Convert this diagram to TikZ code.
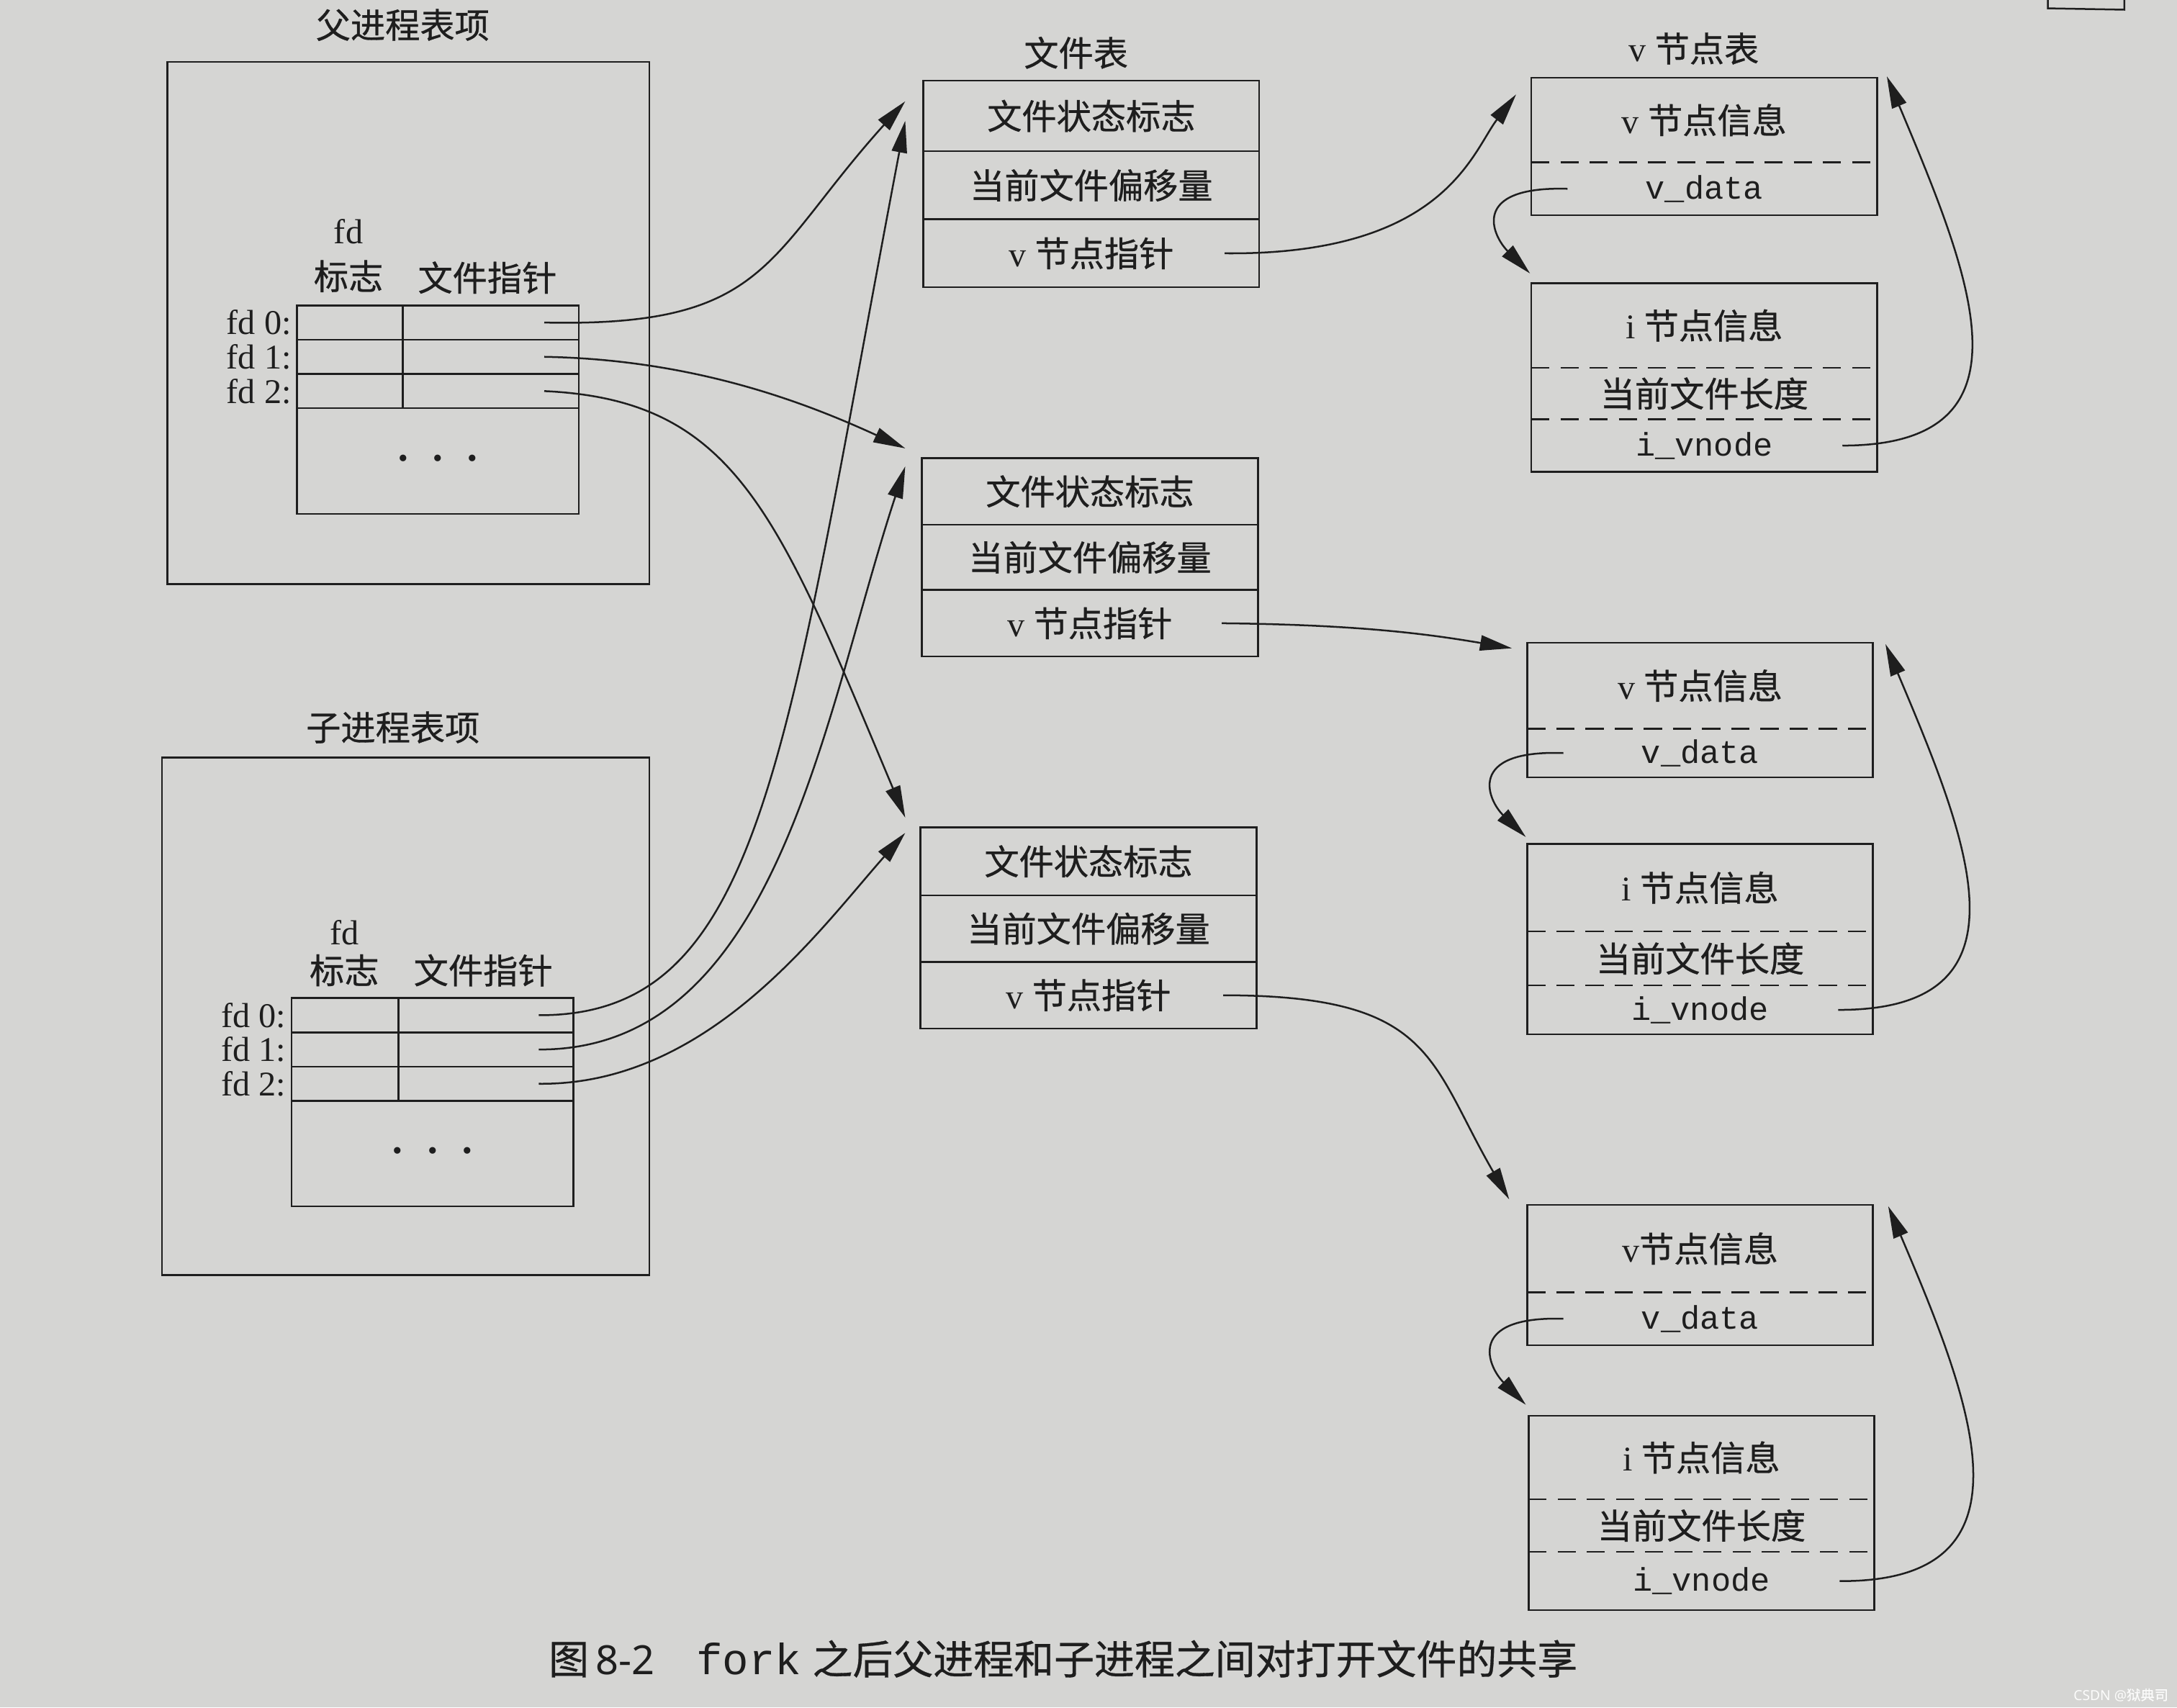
\documentclass[tikz,border=0pt]{standalone}
\usepackage{fontspec}
\setmainfont{Liberation Serif}
\setmonofont{Liberation Mono}
\newfontfamily\cjkfont[FakeBold=0.6]{Noto Sans CJK SC}
\newfontfamily\capsans{Noto Sans}
\usetikzlibrary{arrows.meta}
\newcommand\zh[1]{{\cjkfont #1}}
\definecolor{paper}{RGB}{213,213,211}
\definecolor{ink}{RGB}{30,30,30}
\begin{document}
\begin{tikzpicture}[x=1pt,y=-1pt,
  every node/.style={text=ink},
  lbl/.style={inner sep=0pt,font=\fontsize{25}{30}\selectfont},
  cell/.style={draw=ink,line width=1.3pt,inner sep=0pt,outer sep=0pt,font=\fontsize{25}{30}\selectfont},
  frow/.style={cell,minimum width=242pt},
  vpart/.style={inner sep=0pt,outer sep=0pt,minimum width=249pt,font=\fontsize{25}{30}\selectfont},
  frame/.style={draw=ink,line width=1.3pt},
  divline/.style={draw=ink,line width=1.2pt,dash pattern=on 13pt off 8pt},
  ptr/.style={draw=ink,line width=1.3pt,-{Triangle[length=23pt,width=11pt]}},
  dots/.style={cell,minimum width=203pt,minimum height=76pt,anchor=north west}
]
% background
\fill[paper] (0,0) rectangle (1568,1230);
\useasboundingbox (0,0) rectangle (1568,1230);
\draw[frame] (1475,0) -- (1475,6) -- (1530,7) -- (1530,0);

% ===== parent process entry =====
\node[lbl] (ptitle) at (290,18) {\zh{父进程表项}};
\node[frame,minimum width=347pt,minimum height=376pt,anchor=north west,inner sep=0pt] (pout) at (120,44) {};
\node[lbl] (pfd) at (251,167) {fd};
\node[lbl] (pflag) at (251,199) {\zh{标志}};
\node[lbl] (pfp) at (351,200) {\zh{文件指针}};
\node[cell,minimum width=76pt,minimum height=24.7pt,anchor=north west] (pf0) at (214,220) {};
\node[cell,minimum width=127pt,minimum height=24.7pt,anchor=west] (pp0) at (pf0.east) {};
\node[cell,minimum width=76pt,minimum height=24.7pt,anchor=north] (pf1) at (pf0.south) {};
\node[cell,minimum width=127pt,minimum height=24.7pt,anchor=west] (pp1) at (pf1.east) {};
\node[cell,minimum width=76pt,minimum height=24.7pt,anchor=north] (pf2) at (pf1.south) {};
\node[cell,minimum width=127pt,minimum height=24.7pt,anchor=west] (pp2) at (pf2.east) {};
\node[dots] (pdots) at (pf2.south west)
  {\raisebox{-5pt}{\fontsize{20}{20}\selectfont\textbullet\hspace{18pt}\textbullet\hspace{18pt}\textbullet}};
\node[lbl,anchor=east] (pl0) at ([xshift=-4pt]pf0.west) {fd 0:};
\node[lbl,anchor=east] (pl1) at ([xshift=-4pt]pf1.west) {fd 1:};
\node[lbl,anchor=east] (pl2) at ([xshift=-4pt]pf2.west) {fd 2:};

% ===== child process entry =====
\node[lbl] (ctitle) at (283,524) {\zh{子进程表项}};
\node[frame,minimum width=351pt,minimum height=373pt,anchor=north west,inner sep=0pt] (cout) at (116,545) {};
\node[lbl] (cfd) at (248,672) {fd};
\node[lbl] (cflag) at (248,699) {\zh{标志}};
\node[lbl] (cfp) at (348,699) {\zh{文件指针}};
\node[cell,minimum width=77pt,minimum height=24.7pt,anchor=north west] (cf0) at (210,719) {};
\node[cell,minimum width=126pt,minimum height=24.7pt,anchor=west] (cp0) at (cf0.east) {};
\node[cell,minimum width=77pt,minimum height=24.7pt,anchor=north] (cf1) at (cf0.south) {};
\node[cell,minimum width=126pt,minimum height=24.7pt,anchor=west] (cp1) at (cf1.east) {};
\node[cell,minimum width=77pt,minimum height=24.7pt,anchor=north] (cf2) at (cf1.south) {};
\node[cell,minimum width=126pt,minimum height=24.7pt,anchor=west] (cp2) at (cf2.east) {};
\node[dots] (cdots) at (cf2.south west)
  {\raisebox{-5pt}{\fontsize{20}{20}\selectfont\textbullet\hspace{18pt}\textbullet\hspace{18pt}\textbullet}};
\node[lbl,anchor=east] (cl0) at ([xshift=-4pt]cf0.west) {fd 0:};
\node[lbl,anchor=east] (cl1) at ([xshift=-4pt]cf1.west) {fd 1:};
\node[lbl,anchor=east] (cl2) at ([xshift=-4pt]cf2.west) {fd 2:};

% ===== file table =====
\node[lbl] (ftitle) at (775,38) {\zh{文件表}};
\node[frow,minimum height=51pt,anchor=north west] (f1a) at (665,58) {\zh{文件状态标志}};
\node[frow,minimum height=49pt,anchor=north] (f1b) at (f1a.south) {\zh{当前文件偏移量}};
\node[frow,minimum height=49pt,anchor=north] (f1c) at (f1b.south) {v \zh{节点指针}};

\node[frow,minimum height=48pt,anchor=north west] (f2a) at (664,330) {\zh{文件状态标志}};
\node[frow,minimum height=47pt,anchor=north] (f2b) at (f2a.south) {\zh{当前文件偏移量}};
\node[frow,minimum height=48pt,anchor=north] (f2c) at (f2b.south) {v \zh{节点指针}};

\node[frow,minimum height=49pt,anchor=north west] (f3a) at (663,596) {\zh{文件状态标志}};
\node[frow,minimum height=48pt,anchor=north] (f3b) at (f3a.south) {\zh{当前文件偏移量}};
\node[frow,minimum height=48pt,anchor=north] (f3c) at (f3b.south) {v \zh{节点指针}};

% ===== v-node table =====
\node[lbl] (vtitle) at (1220,35) {v \zh{节点表}};
% group 1
\node[vpart,minimum height=61pt,anchor=north west] (v1a) at (1103,56) {v \zh{节点信息}};
\node[vpart,minimum height=38pt,anchor=north] (v1b) at (v1a.south) {\fontsize{23.5}{28}\selectfont\ttfamily v\_data};
\draw[frame] (v1a.north west) rectangle (v1b.south east);
\draw[divline] (v1a.south west) -- (v1a.south east);
\node[vpart,minimum height=61pt,anchor=north west] (i1a) at (1103,204) {i \zh{节点信息}};
\node[vpart,minimum height=37pt,anchor=north] (i1b) at (i1a.south) {\zh{当前文件长度}};
\node[vpart,minimum height=38pt,anchor=north] (i1c) at (i1b.south) {\fontsize{23.5}{28}\selectfont\ttfamily i\_vnode};
\draw[frame] (i1a.north west) rectangle (i1c.south east);
\draw[divline] (i1a.south west) -- (i1a.south east);
\draw[divline] (i1b.south west) -- (i1b.south east);
% group 2
\node[vpart,minimum height=62pt,anchor=north west] (v2a) at (1100,463) {v \zh{节点信息}};
\node[vpart,minimum height=35pt,anchor=north] (v2b) at (v2a.south) {\fontsize{23.5}{28}\selectfont\ttfamily v\_data};
\draw[frame] (v2a.north west) rectangle (v2b.south east);
\draw[divline] (v2a.south west) -- (v2a.south east);
\node[vpart,minimum height=63pt,anchor=north west] (i2a) at (1100,608) {i \zh{节点信息}};
\node[vpart,minimum height=39pt,anchor=north] (i2b) at (i2a.south) {\zh{当前文件长度}};
\node[vpart,minimum height=35pt,anchor=north] (i2c) at (i2b.south) {\fontsize{23.5}{28}\selectfont\ttfamily i\_vnode};
\draw[frame] (i2a.north west) rectangle (i2c.south east);
\draw[divline] (i2a.south west) -- (i2a.south east);
\draw[divline] (i2b.south west) -- (i2b.south east);
% group 3
\node[vpart,minimum height=63pt,anchor=north west] (v3a) at (1100,868) {v\zh{节点信息}};
\node[vpart,minimum height=38pt,anchor=north] (v3b) at (v3a.south) {\fontsize{23.5}{28}\selectfont\ttfamily v\_data};
\draw[frame] (v3a.north west) rectangle (v3b.south east);
\draw[divline] (v3a.south west) -- (v3a.south east);
\node[vpart,minimum height=60pt,anchor=north west] (i3a) at (1101,1020) {i \zh{节点信息}};
\node[vpart,minimum height=38pt,anchor=north] (i3b) at (i3a.south) {\zh{当前文件长度}};
\node[vpart,minimum height=42pt,anchor=north] (i3c) at (i3b.south) {\fontsize{23.5}{28}\selectfont\ttfamily i\_vnode};
\draw[frame] (i3a.north west) rectangle (i3c.south east);
\draw[divline] (i3a.south west) -- (i3a.south east);
\draw[divline] (i3b.south west) -- (i3b.south east);

% ===== connector end points =====
\coordinate (ps0) at ([xshift=-25pt]pp0.east);
\coordinate (ps1) at ([xshift=-25pt]pp1.east);
\coordinate (ps2) at ([xshift=-25pt]pp2.east);
\coordinate (cs0) at ([xshift=-25pt]cp0.east);
\coordinate (cs1) at ([xshift=-25pt]cp1.east);
\coordinate (cs2) at ([xshift=-25pt]cp2.east);
\coordinate (f1s) at ([xshift=-25pt]f1c.east);
\coordinate (f2s) at ([xshift=-26pt]f2c.east);
\coordinate (f3s) at ([xshift=-24pt]f3c.east);
\coordinate (f1t1) at (652,73);
\coordinate (f1t2) at (652,87);
\coordinate (f2t1) at (652,323);
\coordinate (f2t2) at (652,336);
\coordinate (f3t1) at (652,589);
\coordinate (f3t2) at (652,600);
\coordinate (v1t) at (1092,68);
\coordinate (v2t) at (1089,467);
\coordinate (v3t) at (1087,864);
\coordinate (d1s) at ([xshift=26pt]v1b.west);
\coordinate (d2s) at ([xshift=26pt]v2b.west);
\coordinate (d3s) at ([xshift=26pt]v3b.west);
\coordinate (i1t) at (1102,197);
\coordinate (i2t) at (1099,603);
\coordinate (i3t) at (1099,1012);
\coordinate (n1s) at ([xshift=-25pt]i1c.east);
\coordinate (n2s) at ([xshift=-25pt]i2c.east);
\coordinate (n3s) at ([xshift=-25pt]i3c.east);
\coordinate (r1t) at (1359,55);
\coordinate (r2t) at (1358,464);
\coordinate (r3t) at (1360,869);

% ===== connectors =====
\draw[ptr] (ps0) .. controls (554,236) and (551,185) .. (f1t1);
\draw[ptr] (ps1) .. controls (500,259) and (580,290) .. (f2t1);
\draw[ptr] (ps2) .. controls (530,288) and (560,370) .. (f3t1);
\draw[ptr] (cs0) .. controls (550,732) and (565,545) .. (f1t2);
\draw[ptr] (cs1) .. controls (560,757) and (593,515) .. (f2t2);
\draw[ptr] (cs2) .. controls (510,782) and (590,670) .. (f3t2);

\draw[ptr] (f1s) .. controls (1040,184) and (1060,110) .. (v1t);
\draw[ptr] (f2s) .. controls (980,450) and (1030,457) .. (v2t);
\draw[ptr] (f3s) .. controls (1033,717) and (1029,764) .. (v3t);

\draw[ptr] (d1s) .. controls (1058,134) and (1075,170) .. (i1t);
\draw[ptr] (d2s) .. controls (1055,540) and (1072,577) .. (i2t);
\draw[ptr] (d3s) .. controls (1055,948) and (1072,985) .. (i3t);

\draw[ptr] (n1s) .. controls (1470,321) and (1420,200) .. (r1t);
\draw[ptr] (n2s) .. controls (1468,728) and (1418,606) .. (r2t);
\draw[ptr] (n3s) .. controls (1471,1140) and (1421,1012) .. (r3t);

% ===== caption =====
\node[inner sep=0pt,anchor=west,font=\fontsize{29}{34}\selectfont] (cap) at (395,1195)
  {\zh{图}\,{\capsans 8-2}\hspace{30pt}{\fontsize{31.5}{34}\selectfont\ttfamily fork}\hspace{8pt}\zh{之后父进程和子进程之间对打开文件的共享}};
\node[inner sep=0pt,anchor=east,text=white!92!paper,font=\fontsize{10}{12}\selectfont] (wm) at (1562,1221)
  {{\capsans CSDN @}\zh{狱典司}};
\end{tikzpicture}
\end{document}
